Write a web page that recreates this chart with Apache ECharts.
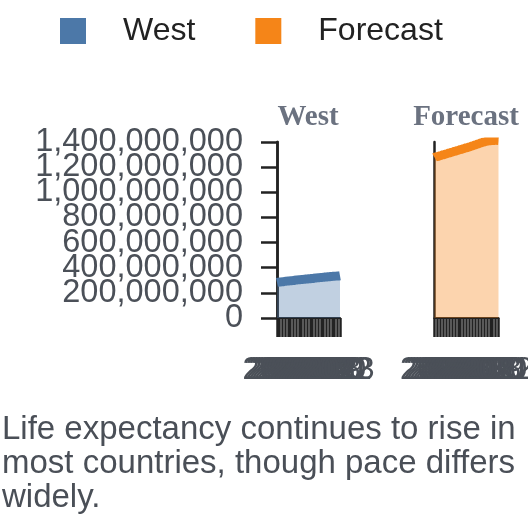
<!DOCTYPE html>
<html>
<head>
<meta charset="utf-8">
<script src="https://cdn.jsdelivr.net/npm/echarts@6/dist/echarts.min.js"></script>
<style>
  html, body { margin: 0; padding: 0; background: #fff; }
  #chart { width: 528px; height: 528px; }
</style>
</head>
<body>
<div id="chart"></div>
<script>
// data
const westYears = ['2000', '2001', '2002', '2003', '2004', '2005', '2006', '2007', '2008', '2009', '2010', '2011',
  '2012', '2013', '2014', '2015', '2016', '2017', '2018', '2019', '2020', '2021', '2022', '2023'];
const westValues = [284, 286.5, 289, 291.5, 294, 296.5, 299, 301.5, 304, 306.5, 309, 311,
  313, 315, 317.5, 320, 322.5, 325, 327, 329, 331, 332.5, 334, 336].map(v => v * 1e6);

const forecastYears = ['2000', '2001', '2002', '2003', '2004', '2005', '2006', '2007', '2008', '2009', '2010', '2011',
  '2012', '2013', '2014', '2015', '2016', '2017', '2018', '2019', '2020', '2021', '2022'];
const forecastValues = [1277, 1284, 1291, 1298, 1305, 1312, 1319, 1326, 1333, 1340, 1347, 1354,
  1361, 1369, 1377, 1385, 1393, 1400, 1406, 1410, 1412, 1413, 1412].map(v => v * 1e6);

const seriesNames = ['West', 'Forecast'];
const seriesColors = ['#4c78a8', '#f58518'];
const yMin = 0;
const yMax = 1400000000;
const yStep = 200000000;
// evenly spaced labels 0 .. yMax, drawn on their own axis so none are dropped as overlapping
const yTickLabels = ['0', '200,000,000', '400,000,000', '600,000,000', '800,000,000',
  '1,000,000,000', '1,200,000,000', '1,400,000,000'];
const caption = 'Life expectancy continues to rise in\nmost countries, though pace differs\nwidely.';

const axisColor = '#222';
const labelColor = '#4b5058';
const sans = 'Liberation Sans, Arial, sans-serif';
const serif = 'Liberation Serif, Times New Roman, serif';

let chart = echarts.init(document.getElementById('chart'));

const xAxisBase = (gridIndex, data) => ({
  type: 'category',
  gridIndex: gridIndex,
  data: data,
  boundaryGap: false,
  axisLine: { lineStyle: { color: axisColor, width: 2 } },
  axisTick: { show: true, interval: 0, length: 19, lineStyle: { color: axisColor, width: 2.5 } },
  axisLabel: {
    interval: 0,
    hideOverlap: false,
    margin: 42,
    fontSize: 31,
    lineHeight: 20,
    color: labelColor,
    fontFamily: sans
  },
  splitLine: { show: false }
});

const valueAxis = (gridIndex) => ({
  type: 'value',
  gridIndex: gridIndex,
  position: 'left',
  min: yMin,
  max: yMax,
  interval: yStep,
  axisLine: { show: true, lineStyle: { color: axisColor, width: 2.5 } },
  axisTick: { show: false },
  axisLabel: { show: false },
  splitLine: { show: false }
});

const areaSeries = (i, values) => ({
  name: seriesNames[i],
  type: 'line',
  xAxisIndex: i,
  yAxisIndex: i,
  data: values,
  smooth: true,
  smoothMonotone: 'x',
  showSymbol: false,
  symbol: 'none',
  lineStyle: { color: seriesColors[i], width: 9, cap: 'butt' },
  itemStyle: { color: seriesColors[i] },
  areaStyle: { color: seriesColors[i], opacity: 0.35 },
  z: 1
});

const panelTitle = (text, x) => ({
  text: text,
  left: x,
  top: 103,
  padding: 0,
  textAlign: 'center',
  textStyle: { fontFamily: serif, fontWeight: 'bold', fontSize: 29, color: '#6b7280' }
});

let option = {
  animation: false,
  backgroundColor: '#fff',
  legend: {
    data: seriesNames,
    left: 60,
    top: 15,
    padding: 0,
    itemWidth: 26,
    itemHeight: 26,
    itemGap: 60,
    icon: 'rect',
    itemStyle: { borderRadius: 3 },
    textStyle: {
      fontSize: 32,
      color: '#222',
      fontFamily: sans,
      padding: [0, 0, 0, 32]
    }
  },
  title: [
    panelTitle('West', 308),
    panelTitle('Forecast', 466)
  ],
  grid: [
    { left: 277, top: 142, width: 63, height: 176, containLabel: false, outerBoundsMode: 'none' },
    { left: 434.5, top: 142, width: 64, height: 176, containLabel: false, outerBoundsMode: 'none' }
  ],
  xAxis: [
    xAxisBase(0, westYears),
    xAxisBase(1, forecastYears)
  ],
  yAxis: [
    valueAxis(0),
    valueAxis(1),
    {
      type: 'category',
      gridIndex: 0,
      position: 'left',
      data: yTickLabels,
      boundaryGap: false,
      axisLine: { show: true, lineStyle: { color: axisColor, width: 2.5 } },
      axisTick: { show: true, interval: 0, length: 16, lineStyle: { color: axisColor, width: 2.5 } },
      axisLabel: {
        interval: 0,
        hideOverlap: false,
        margin: 34,
        fontSize: 32.5,
        color: labelColor,
        fontFamily: sans
      },
      splitLine: { show: false }
    }
  ],
  series: [
    areaSeries(0, westValues),
    areaSeries(1, forecastValues)
  ],
  graphic: [
    {
      type: 'text',
      left: 2,
      top: 413,
      style: {
        text: caption,
        fontSize: 33,
        lineHeight: 34,
        fill: '#4a4f57',
        fontFamily: sans
      }
    }
  ]
};

option && chart.setOption(option);
</script>
</body>
</html>
